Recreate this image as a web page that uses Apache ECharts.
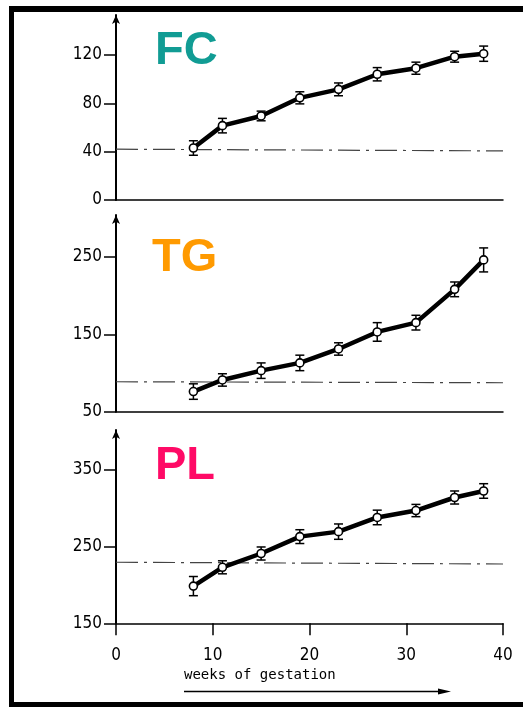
<!DOCTYPE html>
<html>
<head>
<meta charset="utf-8">
<script src="https://cdn.jsdelivr.net/npm/echarts@6/dist/echarts.min.js"></script>
<style>
  html, body { margin: 0; padding: 0; background: #fff; }
  #chart { width: 523px; height: 707px; }
</style>
</head>
<body>
<div id="chart"></div>
<script>
// Gestational week of each sampling point
const weeks = [8, 11, 15, 19, 23, 27, 31, 35, 38];

// FC: means and error half-widths
const fcValues = [43, 61.5, 69.5, 84.5, 91.5, 104, 109, 118.5, 121];
const fcErrors = [6, 6, 4, 5, 5.3, 5.5, 5, 4.5, 6.3];
// TG
const tgValues = [76, 91, 103, 113, 131, 153, 165, 208, 246];
const tgErrors = [10, 8, 10, 10, 8, 12, 9.5, 9.5, 15.5];
// PL
const plValues = [198.5, 223, 241, 263, 269.5, 288, 297, 314, 322.5];
const plErrors = [12.5, 8.5, 8.5, 9, 10, 9.5, 8, 8.5, 9.5];

// Non-pregnant reference levels (start / end of the dash-dot line)
const fcReference = [42, 40.6];
const tgReference = [88.7, 87.4];
const plReference = [229.6, 227.3];

// Tick labels
const xTicks = [0, 10, 20, 30, 40];
const fcTicks = [0, 40, 80, 120];
const tgTicks = [50, 150, 250];
const plTicks = [150, 250, 350];

const panelNames = ['FC', 'TG', 'PL'];
const panelColors = ['#119c94', '#ff9a00', '#ff0a66'];

const numFont = '"Liberation Sans Narrow", "DejaVu Sans Condensed", sans-serif';

const chart = echarts.init(document.getElementById('chart'), null, { renderer: 'canvas' });

const grids = [
  { left: 116, right: 20, top: 15, height: 185 },
  { left: 116, right: 20, top: 215, height: 196.7 },
  { left: 116, right: 20, top: 430, height: 193.3 }
];

function xAxisFor(i, withLabels) {
  return {
    type: 'value', gridIndex: i, min: 0, max: 40,
    axisLine: { show: true, onZero: false, lineStyle: { color: '#000', width: 1.5 } },
    axisTick: { show: withLabels, inside: false, length: 12, customValues: xTicks,
                lineStyle: { color: '#000', width: 1.5 } },
    axisLabel: { show: withLabels, customValues: xTicks, margin: 24, color: '#000',
                 fontSize: 17, fontFamily: numFont },
    splitLine: { show: false }
  };
}

function yAxisFor(i, min, max, ticks) {
  return {
    type: 'value', gridIndex: i, min: min, max: max,
    axisLine: { show: true, onZero: false, symbol: ['none', 'arrow'], symbolSize: [6, 9],
                lineStyle: { color: '#000', width: 2 } },
    axisTick: { show: true, inside: false, length: 12, customValues: ticks,
                lineStyle: { color: '#000', width: 1.5 } },
    axisLabel: { customValues: ticks, margin: 14, color: '#000', fontSize: 17, fontFamily: numFont },
    splitLine: { show: false }
  };
}

function errorBars(i, values, errors) {
  return {
    type: 'custom', xAxisIndex: i, yAxisIndex: i, z: 3,
    data: weeks.map((w, k) => [w, values[k], errors[k]]),
    encode: { x: 0, y: 1 },
    renderItem: function (params, api) {
      const x = api.value(0), y = api.value(1), e = api.value(2);
      const top = api.coord([x, y + e]);
      const bot = api.coord([x, y - e]);
      const hw = 4.5;
      const style = { stroke: '#000', lineWidth: 1.5 };
      return {
        type: 'group',
        children: [
          { type: 'line', shape: { x1: top[0], y1: top[1], x2: bot[0], y2: bot[1] }, style: style },
          { type: 'line', shape: { x1: top[0] - hw, y1: top[1], x2: top[0] + hw, y2: top[1] }, style: style },
          { type: 'line', shape: { x1: bot[0] - hw, y1: bot[1], x2: bot[0] + hw, y2: bot[1] }, style: style }
        ]
      };
    }
  };
}

function meanLine(i, values) {
  return {
    type: 'line', xAxisIndex: i, yAxisIndex: i, z: 4,
    data: weeks.map((w, k) => [w, values[k]]),
    lineStyle: { color: '#000', width: 4.5 },
    symbol: 'circle', symbolSize: 8, showSymbol: true,
    itemStyle: { color: '#fff', borderColor: '#000', borderWidth: 1.6 },
    animation: false
  };
}

function referenceLine(i, ref) {
  return {
    type: 'line', xAxisIndex: i, yAxisIndex: i, z: 2,
    data: [[0, ref[0]], [40, ref[1]]],
    symbol: 'none',
    lineStyle: { color: '#444', width: 1.2, type: [22, 6, 3, 6] },
    animation: false
  };
}

const option = {
  backgroundColor: '#fff',
  animation: false,
  grid: grids,
  xAxis: [xAxisFor(0, false), xAxisFor(1, false), xAxisFor(2, true)],
  yAxis: [
    yAxisFor(0, 0, 153, fcTicks),
    yAxisFor(1, 50, 304, tgTicks),
    yAxisFor(2, 150, 402, plTicks)
  ],
  series: [
    referenceLine(0, fcReference), errorBars(0, fcValues, fcErrors), meanLine(0, fcValues),
    referenceLine(1, tgReference), errorBars(1, tgValues, tgErrors), meanLine(1, tgValues),
    referenceLine(2, plReference), errorBars(2, plValues, plErrors), meanLine(2, plValues)
  ],
  graphic: [
    // frame bands
    { type: 'rect', shape: { x: 9, y: 6, width: 514, height: 6 }, style: { fill: '#000' } },
    { type: 'rect', shape: { x: 9, y: 6, width: 5, height: 701 }, style: { fill: '#000' } },
    { type: 'rect', shape: { x: 9, y: 702, width: 514, height: 5 }, style: { fill: '#000' } },
    // panel names
    { type: 'text', left: 155, top: 28, style: { text: panelNames[0], fill: panelColors[0],
      font: 'bold 47px "Liberation Sans", Arial, sans-serif' } },
    { type: 'text', left: 152, top: 235, style: { text: panelNames[1], fill: panelColors[1],
      font: 'bold 47px "Liberation Sans", Arial, sans-serif' } },
    { type: 'text', left: 155, top: 443, style: { text: panelNames[2], fill: panelColors[2],
      font: 'bold 47px "Liberation Sans", Arial, sans-serif' } },
    // axis title and direction arrow
    { type: 'text', left: 184, top: 668, style: { text: 'weeks of gestation', fill: '#000',
      font: '14px "DejaVu Sans Mono", monospace' } },
    { type: 'line', shape: { x1: 184, y1: 691.5, x2: 442, y2: 691.5 }, style: { stroke: '#000', lineWidth: 1.5 } },
    { type: 'polygon', shape: { points: [[438, 688.5], [451, 691.5], [438, 694.5]] }, style: { fill: '#000' } }
  ]
};

chart.setOption(option);
</script>
</body>
</html>
